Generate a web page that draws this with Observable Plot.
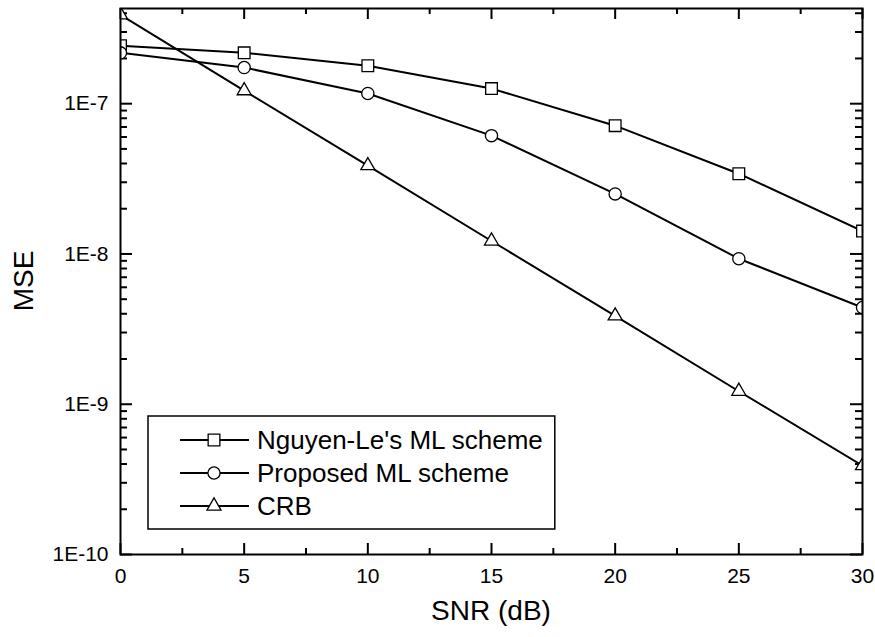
<!DOCTYPE html>
<html>
<head>
<meta charset="utf-8">
<script src="https://cdn.jsdelivr.net/npm/d3@7"></script>
<script src="https://cdn.jsdelivr.net/npm/@observablehq/plot@0.6"></script>
<style>
  html, body { margin: 0; padding: 0; background: #fff; }
  #chart { position: relative; width: 875px; height: 637px; }
  svg { font-family: "Liberation Sans", Arial, sans-serif; }
</style>
</head>
<body>
<div id="chart"></div>
<script>
// ---- data ----
const snr = [0, 5, 10, 15, 20, 25, 30];
const nguyen = [2.43e-7, 2.18e-7, 1.79e-7, 1.26e-7, 7.14e-8, 3.42e-8, 1.42e-8];
const proposed = [2.18e-7, 1.74e-7, 1.17e-7, 6.13e-8, 2.51e-8, 9.3e-9, 4.4e-9];
const crb = [3.9e-7, 1.22e-7, 3.87e-8, 1.22e-8, 3.87e-9, 1.22e-9, 3.9e-10];
const seriesNames = ["Nguyen-Le's ML scheme", "Proposed ML scheme", "CRB"];
const seriesSymbols = ["square", "circle", "triangle"];
const xMajorTicks = [0, 5, 10, 15, 20, 25, 30];
const xMinorTicks = [2.5, 7.5, 12.5, 17.5, 22.5, 27.5];
const yMajorTicks = [1e-10, 1e-9, 1e-8, 1e-7];
const yDomain = [1e-10, 4.3e-7];

// ---- derived table ----
const seriesValues = [nguyen, proposed, crb];
const rows = [];
seriesNames.forEach((name, i) => {
  snr.forEach((x, j) => rows.push({series: name, symbol: seriesSymbols[i], snr: x, mse: seriesValues[i][j]}));
});
const yMinorTicks = [];
for (let e = -10; e <= -7; e++) {
  for (let m = 2; m <= 9; m++) {
    const v = m * Math.pow(10, e);
    if (v <= yDomain[1]) yMinorTicks.push(v);
  }
}

const W = 875, H = 637;
const mL = 120, mR = 13, mT = 8, mB = 83;
const pw = W - mL - mR, ph = H - mT - mB;
const font = "Liberation Sans, Arial, sans-serif";
const rFor = {square: 6.6, circle: 6.1, triangle: 5.2};
const tickFont = 21, legendFont = 26, titleFont = 28;

const svg = Plot.plot({
  width: W, height: H,
  marginLeft: mL, marginRight: mR, marginTop: mT, marginBottom: mB,
  style: {fontFamily: font, background: "#fff", overflow: "visible"},
  x: {domain: [0, 30]},
  y: {type: "log", domain: yDomain},
  symbol: {domain: seriesSymbols, range: seriesSymbols},
  marks: [
    // inward ticks on all four sides
    Plot.tickY(yMajorTicks, {y: d => d, insetRight: pw - 12, stroke: "#000", strokeWidth: 2}),
    Plot.tickY(yMajorTicks, {y: d => d, insetLeft: pw - 12, stroke: "#000", strokeWidth: 2}),
    Plot.tickY(yMinorTicks, {y: d => d, insetRight: pw - 7, stroke: "#000", strokeWidth: 2}),
    Plot.tickY(yMinorTicks, {y: d => d, insetLeft: pw - 7, stroke: "#000", strokeWidth: 2}),
    Plot.tickX(xMajorTicks, {x: d => d, insetTop: ph - 11, stroke: "#000", strokeWidth: 2}),
    Plot.tickX(xMajorTicks, {x: d => d, insetBottom: ph - 11, stroke: "#000", strokeWidth: 2}),
    Plot.tickX(xMinorTicks, {x: d => d, insetTop: ph - 6, stroke: "#000", strokeWidth: 2}),
    Plot.tickX(xMinorTicks, {x: d => d, insetBottom: ph - 6, stroke: "#000", strokeWidth: 2}),
    Plot.axisY({ticks: yMajorTicks, tickSize: 0, tickPadding: 12, fontSize: tickFont, fill: "#000",
      tickFormat: d => "1E" + Math.round(Math.log10(d)), label: null}),
    Plot.axisX({ticks: xMajorTicks, tickSize: 0, tickPadding: 14, fontSize: tickFont, fill: "#000",
      tickFormat: d => String(d), label: null}),
    Plot.lineY(rows, {x: "snr", y: "mse", z: "series", stroke: "#000", strokeWidth: 2, clip: true}),
    Plot.dot(rows.filter(d => d.symbol === "square"), {x: "snr", y: "mse", symbol: "symbol", r: rFor.square, fill: "#fff", stroke: "#000", strokeWidth: 1.3, clip: true}),
    Plot.dot(rows.filter(d => d.symbol === "circle"), {x: "snr", y: "mse", symbol: "symbol", r: rFor.circle, fill: "#fff", stroke: "#000", strokeWidth: 1.3, clip: true}),
    Plot.dot(rows.filter(d => d.symbol === "triangle"), {x: "snr", y: "mse", symbol: "symbol", r: rFor.triangle, fill: "#fff", stroke: "#000", strokeWidth: 1.3, clip: true}),
    Plot.frame({stroke: "#000", strokeWidth: 2})
  ]
});

const root = d3.select(svg);
// force tick label size
root.selectAll("g[aria-label$='tick label']")
  .attr("font-size", tickFont).style("font-size", tickFont + "px")
  .selectAll("text").style("font-size", tickFont + "px");

// axis titles
root.append("text")
  .attr("x", mL + pw / 2).attr("y", 620)
  .attr("text-anchor", "middle").style("font-size", titleFont + "px").attr("font-family", font).attr("fill", "#000")
  .text("SNR (dB)");
root.append("text")
  .attr("transform", `translate(33, ${mT + ph / 2}) rotate(-90)`)
  .attr("text-anchor", "middle").style("font-size", titleFont + "px").attr("font-family", font).attr("fill", "#000")
  .text("MSE");

// legend
const lg = root.append("g").attr("transform", "translate(148, 416)");
const legendRect = lg.append("rect").attr("height", 113).attr("fill", "#fff").attr("stroke", "#000").attr("stroke-width", 1.5);
seriesNames.forEach((name, i) => {
  const yy = 24 + i * 33;
  lg.append("line").attr("x1", 32).attr("x2", 101).attr("y1", yy).attr("y2", yy).attr("stroke", "#000").attr("stroke-width", 2);
  const sym = seriesSymbols[i];
  const d3sym = sym === "square" ? d3.symbolSquare : sym === "circle" ? d3.symbolCircle : d3.symbolTriangle;
  const r = rFor[sym];
  lg.append("path").attr("d", d3.symbol(d3sym, Math.PI * r * r)())
    .attr("transform", `translate(66, ${yy})`).attr("fill", "#fff").attr("stroke", "#000").attr("stroke-width", 1.3);
  lg.append("text").attr("x", 109).attr("y", yy).attr("dy", "0.35em")
    .attr("text-anchor", "start")
    .style("font-size", legendFont + "px").attr("font-family", font).attr("fill", "#000").text(name);
});

document.getElementById("chart").appendChild(svg);
// size legend box to its text
let w = 0;
lg.selectAll("text").each(function() { w = Math.max(w, this.getComputedTextLength()); });
legendRect.attr("width", 109 + w + 12);
</script>
</body>
</html>
